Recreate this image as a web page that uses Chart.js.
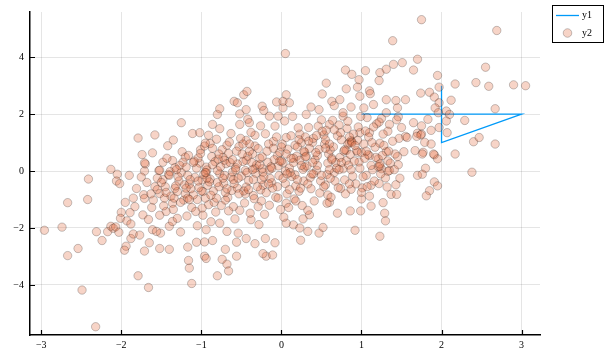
<!DOCTYPE html>
<html>
<head>
<meta charset="utf-8">
<script src="https://cdn.jsdelivr.net/npm/chart.js@4/dist/chart.umd.min.js"></script>
<style>
html,body{margin:0;padding:0;background:#fff;}
canvas{display:block;}
</style>
</head>
<body>
<canvas id="c" width="610" height="361"></canvas>
<script>
// ---- data ----
const seriesNames = ["y1", "y2"];
const xTicks = [-3, -2, -1, 0, 1, 2, 3];
const yTicks = [-4, -2, 0, 2, 4];

const y1X = [1, 3, 2, 2];
const y1Y = [2, 2, 1, 3];

const y2X = [
-2.96,-2.74,-2.67,-2.67,-2.54,-2.49,-2.32,-2.42,-2.41,-2.31,
-2.24,-2.17,-2.13,-2.13,-2.10,-2.07,-2.05,-2.06,-2.02,-2.03,
-2.00,-2.01,-1.93,-1.89,-1.88,-1.88,-1.94,-1.96,-1.85,-1.81,
-1.79,-1.79,-1.74,-1.70,-1.71,-1.75,-1.72,
-1.25,-1.58,-1.35,-1.42,-1.61,-1.71,-1.48,-1.53,-1.36,-1.24,
-1.20,-1.11,-1.02,-0.91,-1.01,-0.89,-0.81,-0.86,-0.77,-0.80,
-0.77,-0.59,-0.55,-0.47,-0.43,-0.52,-0.44,-0.63,-0.52,-0.42,
-0.40,-0.24,-0.22,-0.06,0.02,0.06,-0.15,-0.04,-0.33,-0.26,
-0.68,-0.86,-1.23,-0.71,-0.94,-1.52,-0.44,-0.33,0.05,1.39,
0.80,0.88,1.05,0.97,1.23,1.22,1.31,1.40,1.65,0.56,
0.81,0.95,0.98,0.51,1.10,1.11,0.63,0.73,0.66,0.87,
1.03,1.15,1.31,1.43,1.45,0.37,0.02,0.10,0.31,0.47,
0.77,1.07,1.25,1.35,1.46,1.50,1.55,1.70,1.75,1.79,
1.67,1.77,1.53,1.45,1.33,1.80,1.70,1.31,1.23,1.10,
0.98,0.87,0.81,0.95,1.10,1.21,1.25,1.35,1.06,0.77,
0.81,0.85,0.83,0.88,0.23,0.60,0.06,
1.75,2.69,1.70,1.51,2.55,1.95,1.97,2.17,2.43,2.59,
2.90,3.05,1.74,1.85,1.91,1.55,2.12,1.97,1.92,2.67,
1.96,2.06,2.10,2.06,2.29,1.83,1.65,1.75,1.97,1.87,
2.07,1.74,1.57,1.69,1.87,2.40,2.47,2.67,2.17,1.91,
1.95,
1.76,1.90,1.76,2.38,1.91,1.95,1.85,1.81,
1.46,1.23,1.33,1.30,1.22,1.43,1.32,1.37,1.44,1.27,
1.29,1.30,1.23,1.12,1.00,1.10,0.99,0.86,0.92,0.70,
0.52,0.47,0.24,0.33,0.60,1.12,1.01,0.87,0.74,0.57,
0.35,0.27,0.15,0.06,0.23,0.29,0.17,0.06,0.58,
-1.16,-1.15,-0.96,-0.94,-0.74,-0.68,-0.66,-0.80,-0.70,-0.86,
-0.96,-1.06,-1.17,-1.40,-1.52,-1.65,-1.71,-1.61,-1.51,-1.56,
-1.40,-1.26,-1.05,-0.94,-0.56,-0.44,-0.33,-0.20,-0.08,-0.19,
-0.11,-0.23,-0.68,-0.54,-0.77,-1.52,-1.36,-1.71,-1.73,-1.44,
-1.36,-1.33,-1.30,-0.44,-0.23,-0.38,-0.94,-0.77,-1.66,-1.12,
-0.56,
-1.47,-1.38,-1.45,-1.28,-1.41,-1.33,-1.22,-1.30,-1.48,-1.25,-1.35,-1.43,-1.27,-1.21,-1.39,-1.46,
-1.18,-1.12,-1.05,-0.98,-1.15,-1.08,-0.93,-1.02,-1.16,-0.96,-1.10,-0.99,-1.19,-0.91,-1.04,-1.13,-0.95,-1.07,-0.92,-1.17,-1.01,
-0.88,-0.82,-0.75,-0.67,-0.85,-0.72,-0.63,-0.80,-0.69,-0.87,-0.74,-0.65,-0.78,-0.61,-0.83,-0.70,-0.66,-0.89,-0.76,-0.62,-0.84,-0.73,
-0.58,-0.52,-0.46,-0.35,-0.55,-0.41,-0.32,-0.57,-0.48,-0.36,-0.53,-0.44,-0.38,-0.59,-0.31,-0.50,-0.42,-0.34,-0.56,-0.45,-0.39,-0.51,-0.33,
-0.28,-0.21,-0.15,-0.07,-0.26,-0.12,-0.03,-0.24,-0.17,-0.05,-0.29,-0.10,-0.20,-0.08,-0.14,-0.27,-0.02,-0.19,-0.09,-0.23,-0.01,-0.16,-0.25,-0.04,
0.03,0.09,0.16,0.22,0.05,0.13,0.27,0.02,0.19,0.08,0.25,0.12,0.21,0.04,0.28,0.10,0.17,0.26,0.07,0.23,0.14,0.29,0.01,0.18,
0.33,0.41,0.48,0.55,0.36,0.44,0.58,0.31,0.47,0.39,0.53,0.34,0.50,0.57,0.42,0.37,0.54,0.46,0.59,0.32,0.49,0.40,0.56,
0.62,0.71,0.79,0.66,0.84,0.73,0.61,0.88,0.70,0.82,0.64,0.77,0.89,0.68,0.86,0.75,0.63,0.80,0.72,0.67,0.90,
0.93,1.02,1.14,0.97,1.08,1.17,0.95,1.05,1.19,0.99,1.12,1.03,1.16,0.94,1.09,1.00,1.18,
1.24,1.36,1.42,1.28,1.47,1.33,1.22,1.48,1.39,1.26,1.44,1.31,
-1.95,-1.85,-1.62,-1.58,-1.66,-1.55,-1.90,-1.68,-1.60,-1.83,-1.52,-1.77,-1.63,
-0.60,-0.35,-0.15,0.05,0.25,0.45,0.65,0.15,-0.05,-0.45,-0.80,-1.00,0.35,0.55,0.85,-0.25,0.00,-0.55,0.20,0.40,-0.70,-0.95,-1.20,0.75,1.00,0.30,-0.10,0.10,-0.40,0.60,
-1.32,-1.26,-1.14,-1.09,-1.03,-0.97,-0.90,-0.86,-0.81,-0.79,
-0.71,-0.68,-0.64,-0.60,-0.57,-0.54,-0.49,-0.47,-0.43,-0.40,
-0.37,-0.30,-0.27,-0.22,-0.18,-0.13,-0.11,-0.06,-0.02,0.02,
0.06,0.11,0.15,0.20,0.24,0.30,0.34,0.38,0.43,0.45,
0.51,0.53,0.60,0.63,0.69,0.74,0.78,0.83,0.87,0.92,
0.96,1.04,1.07,1.13,1.21,1.27,1.34,1.41,
-1.29,-1.17,-1.06,-0.99,-0.93,-0.88,-0.78,-0.73,-0.66,-0.61,
-0.53,-0.48,-0.41,-0.36,-0.29,-0.24,-0.16,-0.12,-0.04,0.00,
0.07,0.12,0.18,0.22,0.28,0.33,0.39,0.44,0.50,0.55,
0.61,0.66,0.72,0.79,0.85,0.91,0.98,1.06,1.15,1.23,
-1.55,-1.50,-1.44,-1.40,-1.34,-1.31,-1.19,-1.15,-1.10,-1.04,-0.98,-0.95
];
const y2Y = [
-2.08,-1.97,-1.11,-2.97,-2.72,-4.18,-5.47,-1.00,-0.28,-2.13,
-2.44,-2.13,0.06,-1.94,-2.01,-1.96,-0.11,-0.35,-0.44,-2.15,
-1.45,-1.66,-1.75,-1.46,-1.86,-2.37,-2.64,-2.78,-2.21,-0.61,
-3.68,1.16,0.58,0.25,0.00,-0.21,-0.83,
1.70,1.27,1.09,0.89,0.64,0.29,0.31,0.02,0.37,0.68,
0.49,1.32,1.35,1.26,0.75,0.97,1.12,1.64,1.49,1.99,
2.19,2.45,2.40,2.68,2.80,2.01,2.16,1.32,1.64,1.82,
1.70,2.28,2.13,2.43,2.22,2.68,1.93,1.93,1.26,1.59,
0.91,0.80,0.31,0.38,0.14,0.03,0.38,0.10,4.13,4.58,
3.55,3.40,3.53,3.21,3.46,3.18,3.58,3.75,3.55,3.09,
2.89,2.95,2.63,2.71,2.82,2.72,2.45,2.51,2.30,2.25,
2.22,2.34,2.51,2.48,2.22,2.25,2.45,2.40,1.99,2.16,
1.93,1.88,1.85,1.64,1.91,1.53,1.22,1.33,1.30,1.01,
0.72,0.66,0.68,0.51,0.36,0.10,-0.15,0.68,0.98,1.35,
1.35,1.07,0.72,0.66,0.54,0.43,0.08,0.02,-0.15,0.08,
0.37,1.00,0.95,1.03,1.30,1.64,1.18,
5.32,4.94,3.93,3.81,3.65,3.36,2.95,3.06,3.11,2.98,
3.03,3.00,2.74,2.77,2.60,2.51,2.49,2.40,2.22,2.19,
2.05,2.11,1.99,1.76,1.78,1.82,1.70,1.59,1.53,1.43,
1.35,1.27,1.18,1.22,0.95,1.03,1.18,0.95,0.60,0.57,
0.43,
0.60,0.60,-0.11,-0.04,-0.38,-0.52,-0.69,-0.87,
0.22,0.17,-0.01,-0.24,-0.44,-0.48,-0.56,-0.82,-0.82,-1.11,
-1.48,-1.75,-2.29,-1.23,-0.98,-0.88,-1.40,-1.40,-2.08,-1.48,
-1.98,-2.18,-2.43,-2.12,-1.10,-0.50,-0.59,-0.64,-0.61,-1.13,
-1.54,-1.68,-1.89,-1.83,-2.00,0.14,-0.13,-1.13,-0.84,
-3.14,-3.41,-2.99,-3.07,-3.10,-3.27,-3.51,-3.68,-2.75,-2.44,
-2.49,-2.50,-2.67,-2.75,-2.72,-2.52,-2.81,-2.06,-2.18,-2.12,
-1.94,-2.14,-1.92,-2.06,-2.50,-2.37,-2.55,-2.37,-2.52,-2.99,
-2.95,-2.90,-2.12,-2.18,-1.83,-0.79,-1.13,-0.96,-1.54,-1.42,
-1.77,-0.61,-1.66,-0.56,-0.50,-1.71,-0.06,-0.09,-4.09,-3.95,
-2.99,
-1.22,-0.88,-0.55,-0.35,-0.12,0.12,-1.02,-0.72,-0.30,-0.05,-1.35,0.45,0.20,-0.48,-0.02,-0.95,
-1.58,-1.28,-1.00,-0.72,-0.46,-0.22,0.04,0.28,0.55,0.88,-0.84,-0.31,0.14,-1.18,0.46,-0.62,0.98,-1.42,-0.50,-0.15,0.62,
-1.78,-1.44,-1.21,-0.93,-0.70,-0.43,-0.21,0.02,0.26,0.51,0.75,1.02,-0.55,-0.03,0.33,-1.02,0.62,-0.28,0.15,-0.68,-1.10,0.48,
-1.68,-1.38,-1.12,-0.86,-0.60,-0.33,-0.08,0.12,0.34,0.60,0.86,1.08,1.36,-0.44,0.22,-0.18,0.52,-0.97,0.70,0.02,-1.48,1.15,0.88,
-1.88,-1.52,-1.20,-0.92,-0.66,-0.41,-0.16,0.08,0.31,0.54,0.79,1.04,1.31,1.58,-0.26,0.22,0.66,-0.76,0.40,-0.04,-1.35,0.95,-1.05,0.18,
-1.62,-1.28,-0.98,-0.71,-0.44,-0.19,0.06,0.29,0.52,0.77,1.00,1.24,1.52,1.76,-0.35,0.11,0.91,-1.21,-0.80,0.38,1.92,0.66,0.95,-0.52,
-1.38,-1.05,-0.77,-0.49,-0.23,0.03,0.28,0.52,0.76,1.01,1.27,1.53,1.80,-0.12,0.40,-0.62,0.95,1.58,0.60,0.18,-0.35,1.15,1.43,
-0.92,-0.58,-0.31,-0.05,0.21,0.48,0.74,0.99,1.24,1.50,1.78,2.05,-0.18,0.30,0.58,1.10,0.45,-0.80,1.62,-0.35,1.30,
-0.45,-0.20,0.05,0.32,0.58,0.84,1.08,1.41,1.66,1.92,0.20,0.95,-0.35,0.72,1.20,-0.75,0.48,
-0.10,0.28,0.60,0.90,1.15,1.40,1.72,-0.25,1.05,0.55,1.80,2.05,
-1.10,-0.95,-1.28,-0.55,-1.70,-0.25,-0.15,-0.40,-1.02,-1.25,-1.55,-2.25,-0.80,
-0.30,-0.30,0.05,0.00,0.20,0.55,0.85,0.45,-0.55,-0.80,-0.40,-0.70,0.80,1.10,1.20,-0.30,0.35,0.25,-0.30,-0.10,-0.75,-0.95,-0.80,0.30,0.65,1.20,0.80,-0.65,0.70,0.05,
-0.52,-1.10,-0.30,0.35,-0.58,-0.12,-0.38,0.22,-0.95,0.42,
-0.15,-0.62,0.30,-1.25,0.05,-0.25,0.60,-0.70,-0.05,0.95,
0.30,-0.55,0.45,-0.20,0.70,0.15,-0.60,1.20,0.35,-0.25,
0.60,-0.05,0.30,0.85,-0.60,0.50,1.05,-0.10,0.65,0.20,
1.40,-0.55,0.95,0.40,0.10,1.35,0.70,1.75,0.05,0.90,
1.55,0.45,-0.55,1.00,0.15,1.30,0.70,0.05,
-0.20,-0.95,0.10,-1.30,-0.25,-0.85,0.60,-0.25,-1.40,0.40,
-0.80,0.95,-0.65,0.05,-1.25,0.50,-0.45,0.10,-0.95,0.85,
-0.10,0.45,-1.05,1.10,0.70,-0.45,0.30,1.25,-0.15,0.80,
-0.25,1.45,0.05,0.75,-0.45,0.35,0.10,0.70,1.55,0.25,
-0.65,-0.40,-0.75,-0.15,-0.95,0.05,-0.60,-1.00,0.30,-0.35,-1.55,-0.05
];

// ---- style ----
const FONT = "'Liberation Serif', 'DejaVu Serif', serif";
const LINE_COLOR = '#009af9';
const MARK_FILL = 'rgba(227,111,70,0.3)';
const MARK_EDGE = 'rgba(0,0,0,0.22)';

const y1Data = y1X.map((x, i) => ({x: x, y: y1Y[i]}));
const n = Math.min(y2X.length, y2Y.length);
const y2Data = [];
for (let i = 0; i < n; i++) y2Data.push({x: y2X[i], y: y2Y[i]});

const fmt = v => (v < 0 ? '\u2212' + Math.abs(v) : String(v));

const innerTicks = {
  id: 'innerTicks',
  afterDatasetsDraw(chart) {
    const ctx = chart.ctx, a = chart.chartArea;
    const xs = chart.scales.x, ys = chart.scales.y;
    ctx.save();
    ctx.strokeStyle = '#000';
    ctx.lineWidth = 1.2;
    ctx.beginPath();
    xTicks.forEach(v => {
      const px = Math.round(xs.getPixelForValue(v)) + 0.5;
      ctx.moveTo(px, a.bottom); ctx.lineTo(px, a.bottom - 5);
    });
    yTicks.forEach(v => {
      const py = Math.round(ys.getPixelForValue(v)) + 0.5;
      ctx.moveTo(a.left, py); ctx.lineTo(a.left + 5, py);
    });
    ctx.stroke();
    ctx.restore();
  },
  afterDraw(chart) {
    const ctx = chart.ctx;
    ctx.save();
    ctx.fillStyle = '#fff';
    ctx.fillRect(552, 5.5, 51.5, 37);
    ctx.strokeStyle = '#000';
    ctx.lineWidth = 1;
    ctx.strokeRect(552.5, 5.5, 51, 37);
    ctx.strokeStyle = LINE_COLOR;
    ctx.lineWidth = 1.3;
    ctx.beginPath();
    ctx.moveTo(556, 15.5); ctx.lineTo(579, 15.5);
    ctx.stroke();
    ctx.lineWidth = 1;
    ctx.beginPath();
    ctx.arc(567.5, 33, 4.3, 0, Math.PI * 2);
    ctx.fillStyle = MARK_FILL;
    ctx.fill();
    ctx.strokeStyle = MARK_EDGE;
    ctx.stroke();
    ctx.fillStyle = '#000';
    ctx.font = '10px ' + FONT;
    ctx.textBaseline = 'middle';
    ctx.textAlign = 'left';
    ctx.fillText(seriesNames[0], 582, 15.5);
    ctx.fillText(seriesNames[1], 582, 33);
    ctx.restore();
  }
};

new Chart(document.getElementById('c'), {
  type: 'scatter',
  data: {
    datasets: [
      {
        label: seriesNames[0],
        data: y1Data,
        showLine: true,
        borderColor: LINE_COLOR,
        borderWidth: 1.3,
        pointRadius: 0,
        fill: false,
        order: 1
      },
      {
        label: seriesNames[1],
        data: y2Data,
        backgroundColor: MARK_FILL,
        borderColor: MARK_EDGE,
        borderWidth: 1,
        pointRadius: 4.2,
        order: 0
      }
    ]
  },
  options: {
    responsive: false,
    animation: false,
    devicePixelRatio: 1,
    layout: {padding: {top: 8, right: 70, left: 0, bottom: 0}},
    plugins: {legend: {display: false}, tooltip: {enabled: false}},
    scales: {
      x: {
        type: 'linear',
        min: -3.14, max: 3.23,
        afterBuildTicks: ax => { ax.ticks = xTicks.map(v => ({value: v})); },
        afterFit: ax => { ax.height = 26; },
        grid: {color: 'rgba(0,0,0,0.1)', lineWidth: 1, drawTicks: false},
        border: {display: true, color: '#000', width: 1.5},
        ticks: {
          padding: 4, color: '#000', maxRotation: 0, autoSkip: false,
          font: {family: FONT, size: 10},
          callback: v => fmt(v)
        }
      },
      y: {
        type: 'linear',
        min: -5.76, max: 5.59,
        afterBuildTicks: ax => { ax.ticks = yTicks.map(v => ({value: v})); },
        afterFit: ax => { ax.width = 30; },
        grid: {color: 'rgba(0,0,0,0.1)', lineWidth: 1, drawTicks: false},
        border: {display: true, color: '#000', width: 1.5},
        ticks: {
          padding: 6, color: '#000', autoSkip: false,
          font: {family: FONT, size: 10},
          callback: v => fmt(v)
        }
      }
    }
  },
  plugins: [innerTicks]
});
</script>
</body>
</html>
